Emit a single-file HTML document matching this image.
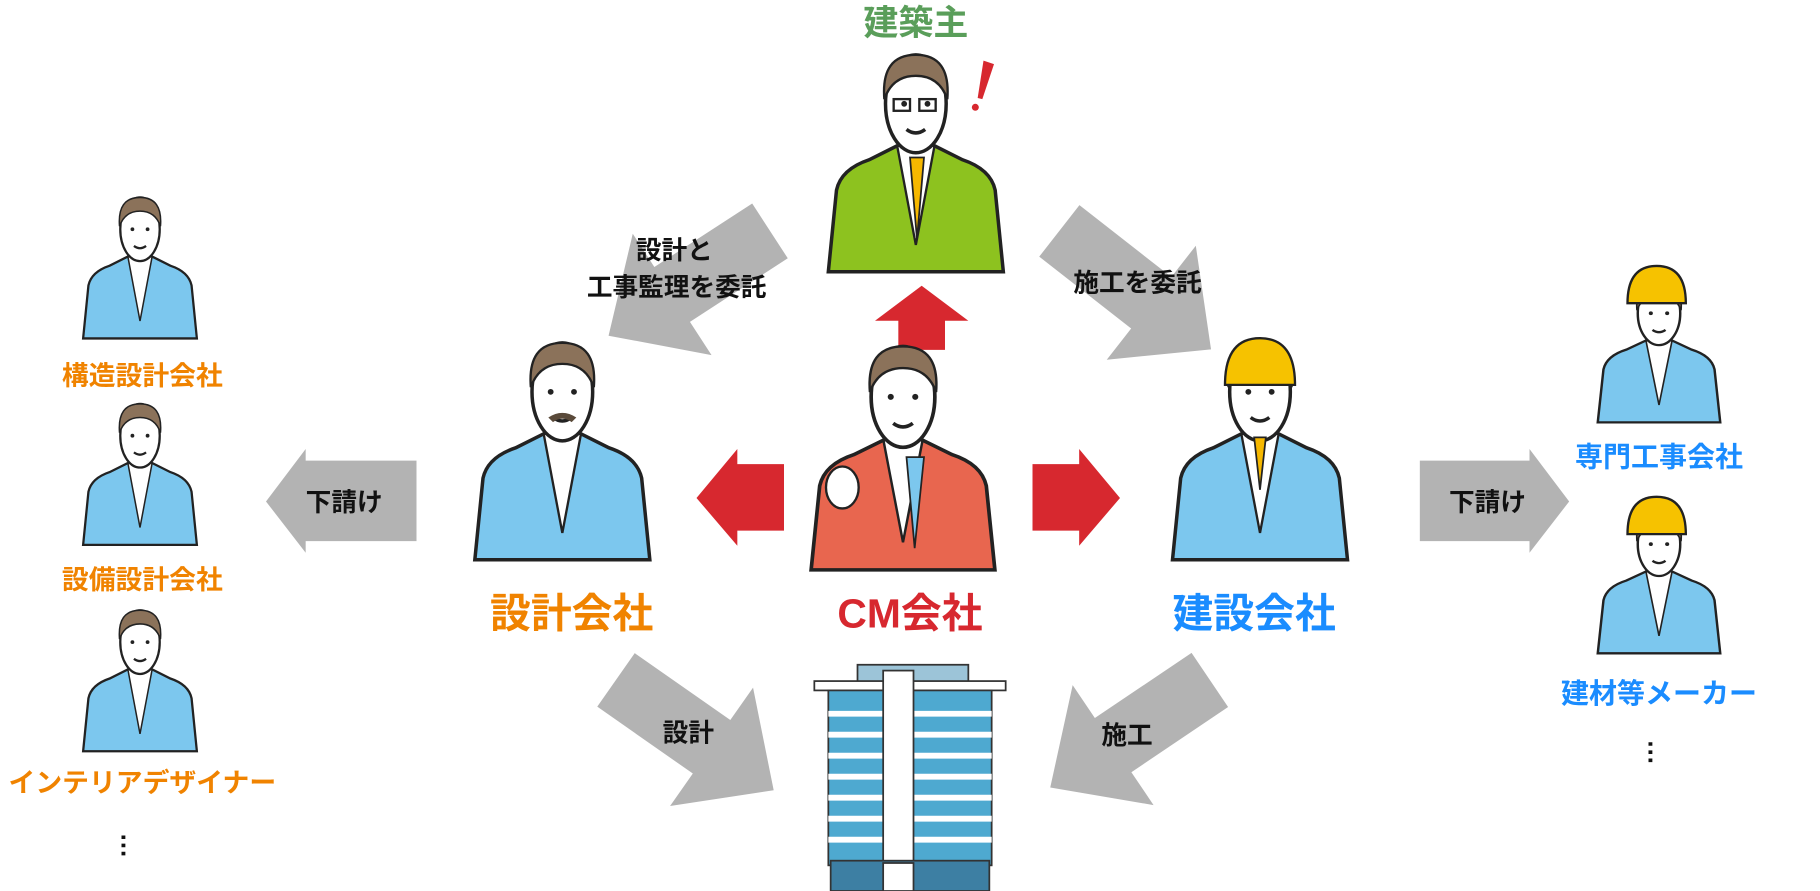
<!DOCTYPE html>
<html><head><meta charset="utf-8"><style>
html,body{margin:0;padding:0;background:#fff;}
svg{display:block;}
text{font-family:"Liberation Sans","Noto Sans CJK JP",sans-serif;font-weight:bold;}
</style></head><body>
<svg width="1820" height="891" viewBox="0 0 1560 764" preserveAspectRatio="none" xmlns="http://www.w3.org/2000/svg">
<defs>
<polygon id="garrow" points="0,-28 100,-28 100,-62 165,0 100,62 100,28 0,28" fill="#b3b3b3"/>
<g id="man">
 <path d="M5,188 L12,118 Q16,100 40,92 L64,80 L96,80 L120,92 Q144,100 148,118 L155,188 Z" stroke="#222" stroke-width="3"/>
 <path d="M64,80 L80,165 L96,80 Z" fill="#fff" stroke="#222" stroke-width="2"/>
 <ellipse cx="80" cy="44" rx="26" ry="42" fill="#fff" stroke="#222" stroke-width="3"/>
 <path d="M53,40 Q50,2 80,2 Q110,2 107,40 Q100,20 80,20 Q60,20 53,40 Z" fill="#8b725a" stroke="#222" stroke-width="2"/>
 <circle cx="70" cy="44" r="2.5" fill="#222"/><circle cx="90" cy="44" r="2.5" fill="#222"/>
 <path d="M72,66 Q80,72 88,66" stroke="#222" stroke-width="3" fill="none"/>
</g>
</defs>

<use href="#garrow" transform="translate(660,198) rotate(147)"/>
<use href="#garrow" transform="translate(908,198) rotate(38)"/>
<use href="#garrow" transform="translate(528,583) rotate(35)"/>
<use href="#garrow" transform="translate(1037,583) rotate(146)"/>
<polygon points="357,395 262,395 262,385 228,430 262,474 262,464 357,464" fill="#b3b3b3"/>
<polygon points="1217,395 1311,395 1311,385 1345,430 1311,474 1311,464 1217,464" fill="#b3b3b3"/>

<polygon points="770,300 770,275 750,275 790,245 830,275 810,275 810,300" fill="#d7282f"/>
<polygon points="672,398 632,398 632,385 597,427 632,468 632,455 672,455" fill="#d7282f"/>
<polygon points="885,398 925,398 925,385 960,427 925,468 925,455 885,455" fill="#d7282f"/>

<g transform="translate(705,45)" fill="#8dc21f"><use href="#man"/></g>
<path d="M780,135 L786,205 L792,135 Z" fill="#f6b800" stroke="#222" stroke-width="1.5"/>
<rect x="766" y="85" width="14" height="10" fill="none" stroke="#222" stroke-width="2"/><rect x="788" y="85" width="14" height="10" fill="none" stroke="#222" stroke-width="2"/>
<polygon points="843,52 852,55 842,85 838,84" fill="#d7282f"/><circle cx="836" cy="92" r="3" fill="#d7282f"/>
<text x="785" y="30" font-size="30" fill="#5a9e5a" text-anchor="middle">建築主</text>

<g transform="translate(690,295) scale(1.05,1.03)" fill="#e8664f"><use href="#man"/></g>
<path d="M777,392 L784,470 L792,392 Z" fill="#7cc7ee" stroke="#222" stroke-width="1.5"/>
<ellipse cx="722" cy="418" rx="14" ry="18" fill="#fff" stroke="#222" stroke-width="2"/>

<g transform="translate(402,292)" fill="#7cc7ee"><use href="#man"/></g>
<path d="M470,358 Q482,350 494,358 L490,362 Q482,356 474,362 Z" fill="#5a4a3a"/>

<g transform="translate(1000,292)" fill="#7cc7ee"><use href="#man"/></g>
<path d="M1050,330 Q1050,290 1080,290 Q1110,290 1110,330 Z" fill="#f6c200" stroke="#222" stroke-width="2"/>
<path d="M1075,375 L1080,420 L1085,375 Z" fill="#f6b800" stroke="#222" stroke-width="1.5"/>

<text x="490" y="538" font-size="35" fill="#f08300" text-anchor="middle">設計会社</text>
<text x="780" y="538" font-size="35" fill="#d7282f" text-anchor="middle">CM会社</text>
<text x="1075" y="538" font-size="35" fill="#1a8cff" text-anchor="middle">建設会社</text>
<text x="578" y="222" font-size="22" fill="#111" text-anchor="middle">設計と</text>
<text x="580" y="254" font-size="22" fill="#111" text-anchor="middle">工事監理を委託</text>
<text x="975" y="250" font-size="22" fill="#111" text-anchor="middle">施工を委託</text>
<text x="590" y="636" font-size="22" fill="#111" text-anchor="middle">設計</text>
<text x="966" y="638" font-size="22" fill="#111" text-anchor="middle">施工</text>
<text x="295" y="438" font-size="22" fill="#111" text-anchor="middle">下請け</text>
<text x="1275" y="438" font-size="22" fill="#111" text-anchor="middle">下請け</text>

<g transform="translate(68,168) scale(0.65,0.65)" fill="#7cc7ee"><use href="#man"/></g>
<g transform="translate(68,345) scale(0.65,0.65)" fill="#7cc7ee"><use href="#man"/></g>
<g transform="translate(68,522) scale(0.65,0.65)" fill="#7cc7ee"><use href="#man"/></g>
<text x="122" y="330" font-size="23" fill="#f08300" text-anchor="middle">構造設計会社</text>
<text x="122" y="505" font-size="23" fill="#f08300" text-anchor="middle">設備設計会社</text>
<text x="122" y="679" font-size="23" fill="#f08300" text-anchor="middle">インテリアデザイナー</text>
<text x="114" y="735" font-size="22" fill="#111" text-anchor="middle" transform="rotate(90 114 725)">…</text>

<g transform="translate(1366,240) scale(0.7,0.65)" fill="#7cc7ee"><use href="#man"/></g>
<path d="M1395,260 Q1395,228 1420,228 Q1445,228 1445,260 Z" fill="#f6c200" stroke="#222" stroke-width="2"/>
<g transform="translate(1366,438) scale(0.7,0.65)" fill="#7cc7ee"><use href="#man"/></g>
<path d="M1395,458 Q1395,426 1420,426 Q1445,426 1445,458 Z" fill="#f6c200" stroke="#222" stroke-width="2"/>
<text x="1422" y="400" font-size="24" fill="#1a8cff" text-anchor="middle">専門工事会社</text>
<text x="1422" y="603" font-size="24" fill="#1a8cff" text-anchor="middle">建材等メーカー</text>
<text x="1420" y="652" font-size="22" fill="#111" text-anchor="middle" transform="rotate(90 1420 645)">…</text>

<rect x="735" y="570" width="95" height="16" fill="#9cc4d8" stroke="#333" stroke-width="1.5"/>
<rect x="698" y="584" width="164" height="8" fill="#fff" stroke="#333" stroke-width="1.5"/>
<rect x="710" y="592" width="140" height="150" fill="#4ea9d0" stroke="#333" stroke-width="1.5"/>
<g stroke="#fff" stroke-width="5">
<line x1="710" y1="612" x2="850" y2="612"/><line x1="710" y1="630" x2="850" y2="630"/><line x1="710" y1="648" x2="850" y2="648"/>
<line x1="710" y1="666" x2="850" y2="666"/><line x1="710" y1="684" x2="850" y2="684"/><line x1="710" y1="702" x2="850" y2="702"/><line x1="710" y1="720" x2="850" y2="720"/>
</g>
<rect x="757" y="575" width="26" height="167" fill="#fff" stroke="#333" stroke-width="1.5"/>
<rect x="712" y="738" width="136" height="26" fill="#3d7fa3" stroke="#333" stroke-width="1.5"/>
<rect x="757" y="740" width="26" height="24" fill="#fff" stroke="#333" stroke-width="1.5"/>
</svg>
</body></html>
